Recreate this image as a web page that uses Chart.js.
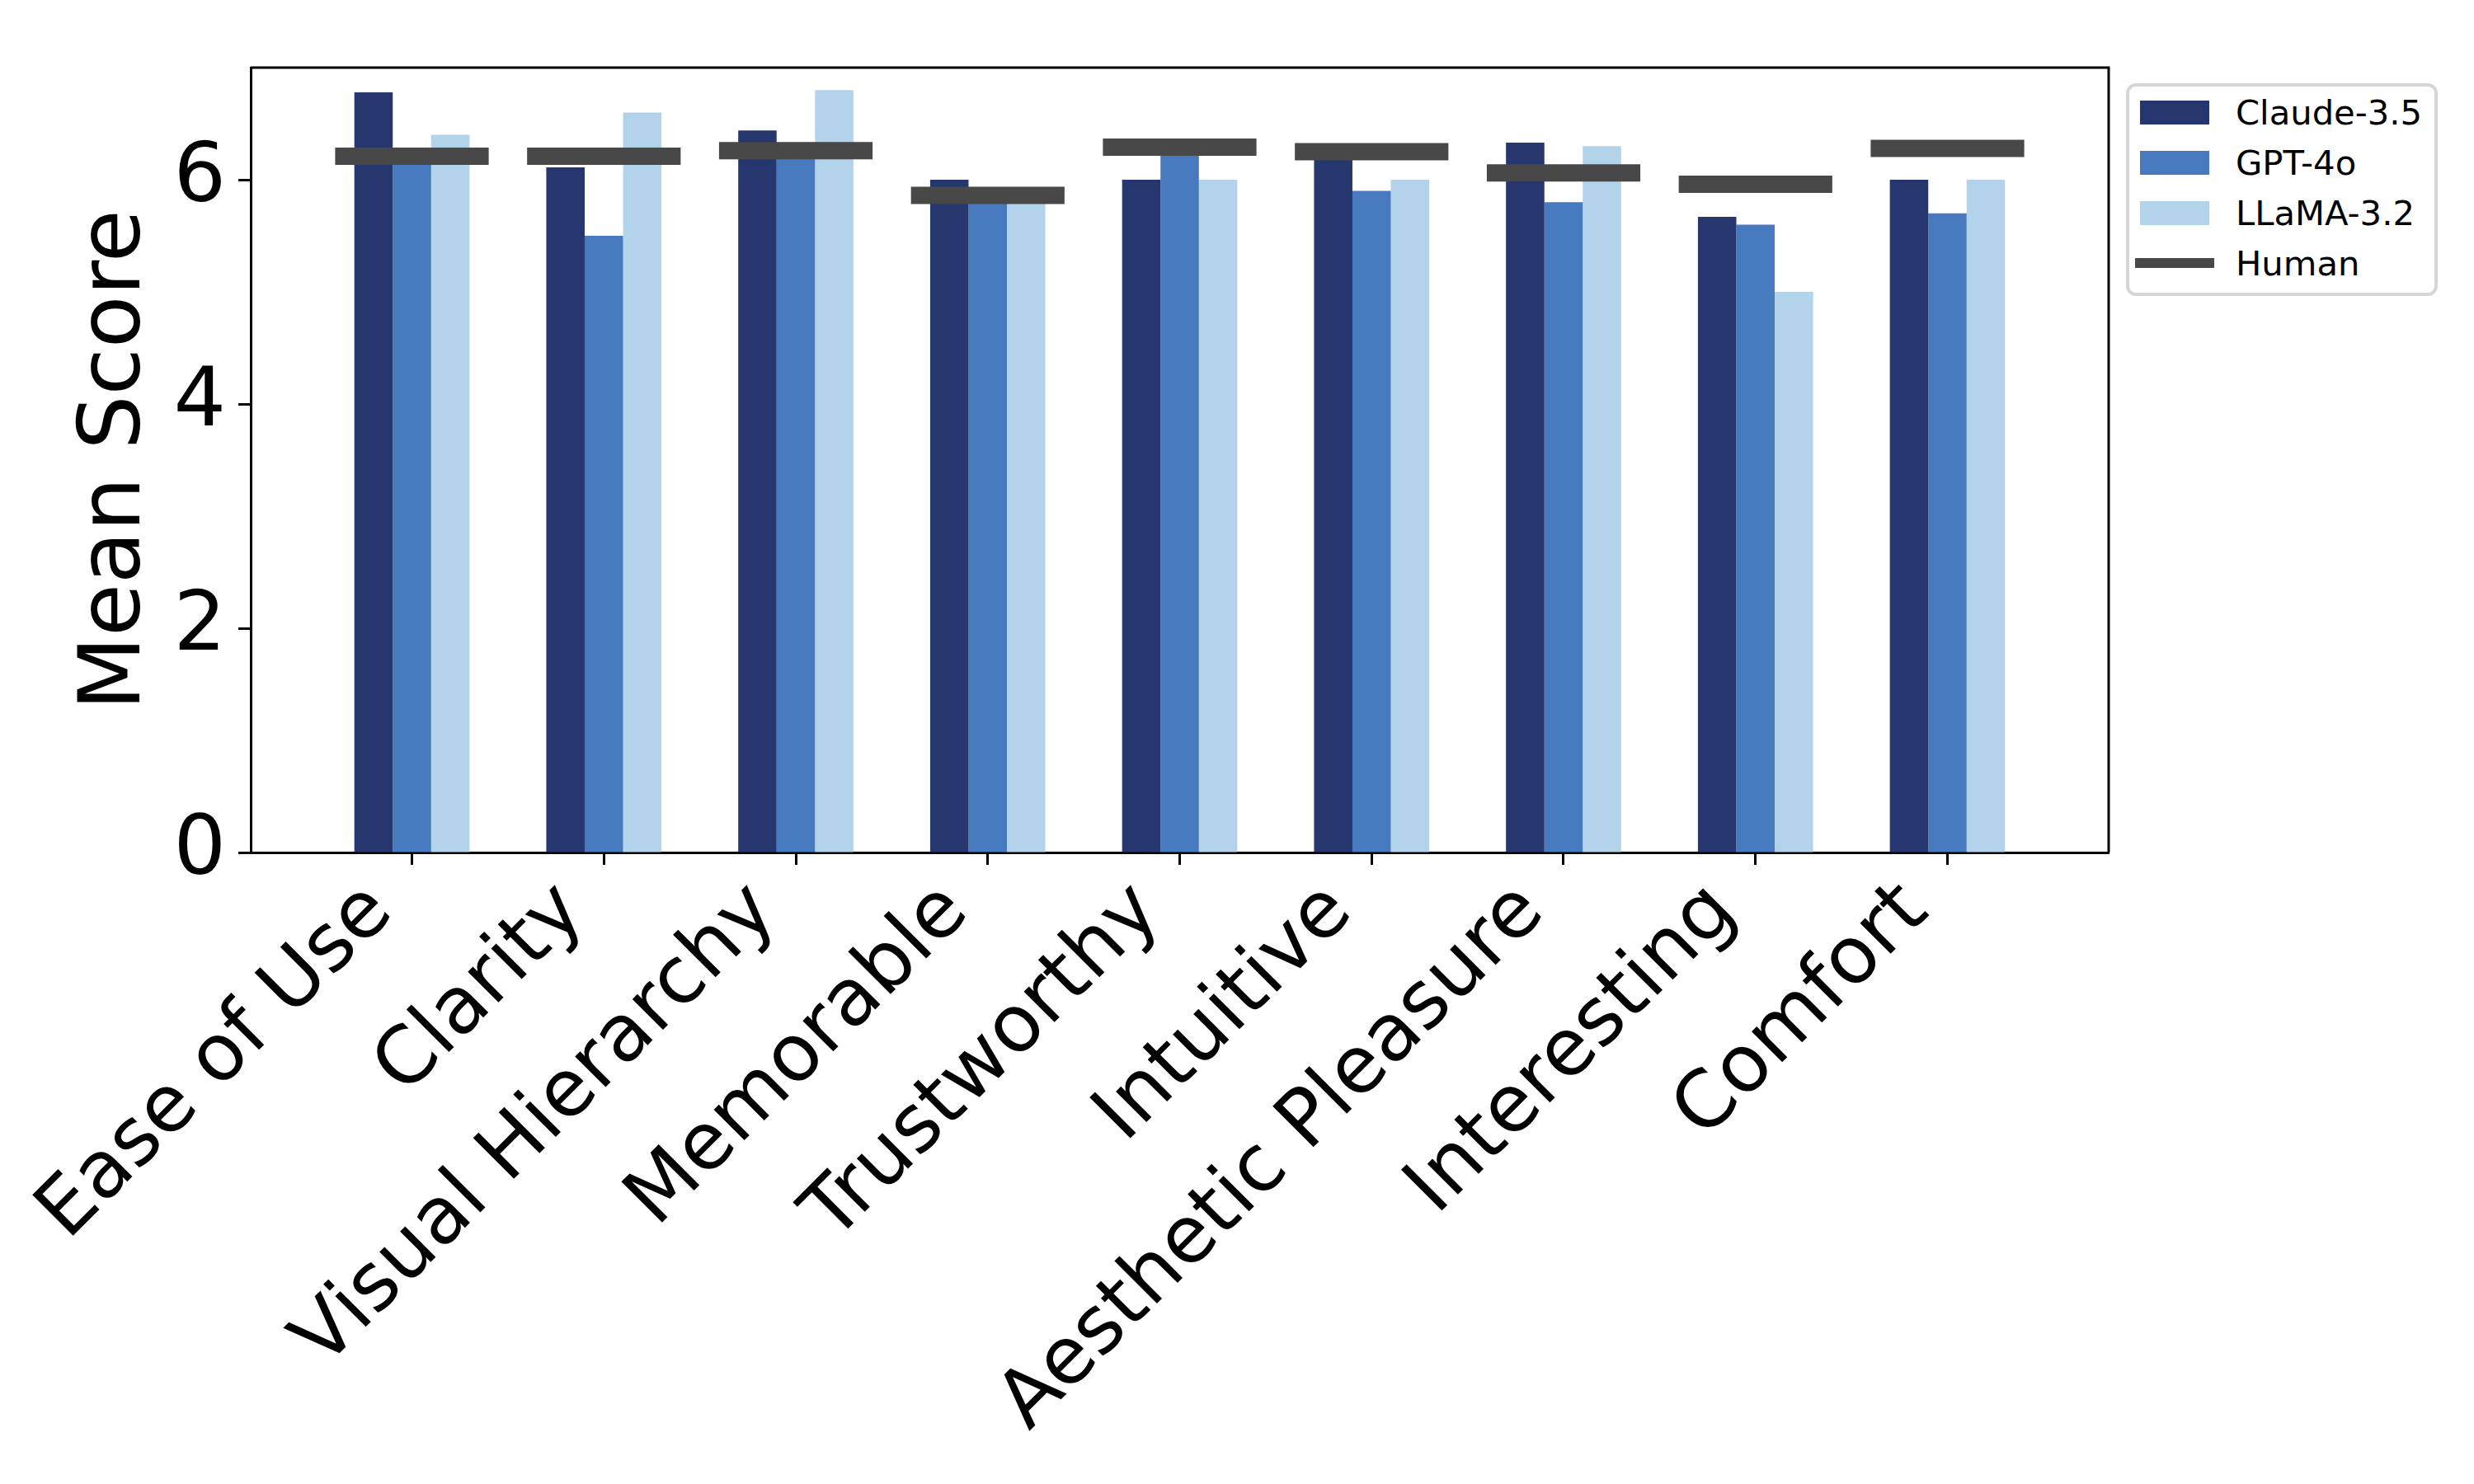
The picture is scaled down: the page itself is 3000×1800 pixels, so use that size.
<!DOCTYPE html>
<html>
<head>
<meta charset="utf-8">
<script src="https://cdn.jsdelivr.net/npm/chart.js@4"></script>
<style>
  html, body { margin: 0; padding: 0; background: #fff; }
  #wrap { position: relative; width: 3000px; height: 1800px; }
  canvas { position: absolute; left: 0; top: 0; }
  #legend {
    position: absolute; left: 2578px; top: 101px; width: 370px; height: 250px;
    border: 4px solid #d6d6d6; border-radius: 12px; background: #fff;
    font-family: "DejaVu Sans", sans-serif; font-size: 41.7px; color: #000;
    box-sizing: content-box;
  }
  .item { position: absolute; left: 0; height: 61px; width: 100%; }
  .sw { position: absolute; left: 13px; top: 16px; width: 84px; height: 29px; }
  .ln { position: absolute; left: 7px; top: 24px; width: 96px; height: 12px; }
  .lab { position: absolute; left: 129px; top: 0; line-height: 61px; white-space: nowrap; }
</style>
</head>
<body>
<div id="wrap">
  <canvas id="c" width="3000" height="1800"></canvas>
  <div id="legend"></div>
</div>
<script>
const categories = ['Ease of Use', 'Clarity', 'Visual Hierarchy', 'Memorable', 'Trustworthy', 'Intuitive', 'Aesthetic Pleasure', 'Interesting', 'Comfort'];
const claude = [6.78, 6.11, 6.44, 6.00, 6.00, 6.22, 6.33, 5.67, 6.00];
const gpt    = [6.20, 5.50, 6.30, 5.85, 6.30, 5.90, 5.80, 5.60, 5.70];
const llama  = [6.40, 6.60, 6.80, 5.85, 6.00, 6.00, 6.30, 5.00, 6.00];
const human  = [6.21, 6.21, 6.26, 5.86, 6.29, 6.25, 6.06, 5.96, 6.28];
const yTicks = [0, 2, 4, 6];
const seriesNames = ['Claude-3.5', 'GPT-4o', 'LLaMA-3.2', 'Human'];
const seriesColors = ['#26366f', '#4679bd', '#b3d3eb', '#484848'];

const HUMAN_HALF = 0.4;
const FONT = '"DejaVu Sans", sans-serif';

function barData(arr) { return arr.map((v, i) => ({ x: i, y: v })); }
function humanData(arr) {
  const out = [];
  arr.forEach((v, i) => {
    out.push({ x: i - HUMAN_HALF, y: v });
    out.push({ x: i + HUMAN_HALF, y: v });
    out.push({ x: i + HUMAN_HALF, y: null });
  });
  return out;
}

const framePlugin = {
  id: 'frame',
  afterDraw(chart) {
    const { ctx, chartArea: a } = chart;
    ctx.save();
    ctx.strokeStyle = '#000';
    ctx.lineWidth = 3;
    ctx.beginPath();
    ctx.moveTo(a.left, a.top);
    ctx.lineTo(a.right, a.top);
    ctx.lineTo(a.right, a.bottom);
    ctx.stroke();
    ctx.restore();
  }
};

const ctx = document.getElementById('c').getContext('2d');
new Chart(ctx, {
  type: 'bar',
  data: {
    datasets: [
      { label: seriesNames[0], data: barData(claude), backgroundColor: seriesColors[0], order: 0 },
      { label: seriesNames[1], data: barData(gpt), backgroundColor: seriesColors[1], order: 0 },
      { label: seriesNames[2], data: barData(llama), backgroundColor: seriesColors[2], order: 0 },
      { type: 'line', label: seriesNames[3], data: humanData(human), borderColor: seriesColors[3],
        backgroundColor: seriesColors[3], borderWidth: 21, pointRadius: 0, spanGaps: false,
        borderCapStyle: 'butt', fill: false, order: -1 }
    ]
  },
  options: {
    responsive: false,
    animation: false,
    devicePixelRatio: 1,
    categoryPercentage: 0.6,
    barPercentage: 1.0,
    layout: { padding: { top: 82, right: 443, left: 0, bottom: 0 } },
    plugins: { legend: { display: false }, tooltip: { enabled: false } },
    scales: {
      x: {
        type: 'linear',
        min: -0.84, max: 8.84,
        offset: false,
        afterBuildTicks: ax => { ax.ticks = categories.map((_, i) => ({ value: i })); },
        afterFit: ax => { ax.height = 766; ax.paddingLeft = 0; ax.paddingRight = 0; },
        grid: { display: true, drawOnChartArea: false, drawTicks: true, tickLength: 15, tickWidth: 3, tickColor: '#000', offset: false },
        border: { display: true, width: 3, color: '#000' },
        ticks: {
          autoSkip: false, minRotation: 45, maxRotation: 45, padding: 1, labelOffset: -38,
          color: '#000', font: { family: FONT, size: 96 },
          callback: v => categories[v]
        }
      },
      y: {
        min: 0, max: 7,
        afterBuildTicks: ax => { ax.ticks = yTicks.map(v => ({ value: v })); },
        afterFit: ax => { ax.width = 304; ax.paddingTop = 0; ax.paddingBottom = 0; },
        grid: { display: true, drawOnChartArea: false, drawTicks: true, tickLength: 15, tickWidth: 3, tickColor: '#000' },
        border: { display: true, width: 3, color: '#000' },
        ticks: { padding: 15, color: '#000', font: { family: FONT, size: 100 }, callback: v => String(v) },
        title: { display: true, text: 'Mean Score', color: '#000', font: { family: FONT, size: 104 }, padding: { top: 80, bottom: 0 } }
      }
    }
  },
  plugins: [framePlugin]
});

// Legend (HTML text)
const lg = document.getElementById('legend');
seriesNames.forEach((name, i) => {
  const it = document.createElement('div');
  it.className = 'item';
  it.style.top = (1 + i * 61) + 'px';
  const sw = document.createElement('div');
  sw.className = i === 3 ? 'ln' : 'sw';
  sw.style.background = seriesColors[i];
  const lab = document.createElement('div');
  lab.className = 'lab';
  lab.textContent = name;
  it.appendChild(sw); it.appendChild(lab);
  lg.appendChild(it);
});
</script>
</body>
</html>
